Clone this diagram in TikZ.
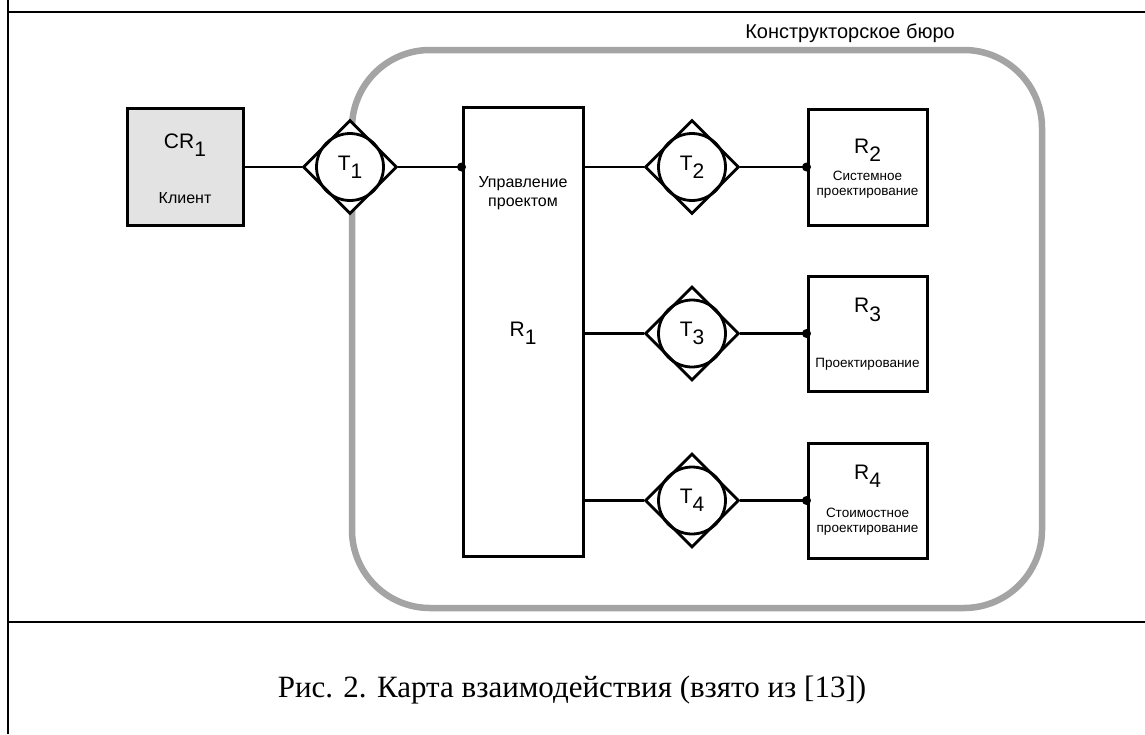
\documentclass[tikz,border=0pt]{standalone}
\usepackage{fontspec}
\setmainfont{Liberation Sans}
\newfontfamily\capfont{Liberation Serif}
\usetikzlibrary{shapes.geometric}
\definecolor{kbgray}{HTML}{A4A4A4}
\definecolor{clientfill}{HTML}{E3E3E3}
\newcommand{\lowidx}[1]{\raisebox{-0.4em}{#1}}

\begin{document}
\begin{tikzpicture}[x=1pt, y=-1pt,
    unit/.style={rectangle, draw, line width=3pt, inner sep=0pt, minimum width=119pt, minimum height=116pt},
    tnode/.style={diamond, draw, fill=white, line width=2.8pt, inner sep=0pt, minimum width=94pt, minimum height=94pt},
    tring/.style={circle, draw, line width=2.8pt, inner sep=0pt, minimum size=67pt, font=\fontsize{21}{24}\selectfont},
    big/.style={font=\fontsize{21}{24}\selectfont},
    mid/.style={font=\fontsize{16}{19}\selectfont, align=center},
    small/.style={font=\fontsize{13.5}{15}\selectfont, align=center},
    link/.style={line width=2.8pt},
    dot/.style={circle, fill, inner sep=0pt, minimum size=9pt},
    frame/.style={line width=2.6pt},
]
\useasboundingbox (0,0) rectangle (1145,734);

\draw[frame] (8,0) -- (8,734);
\draw[frame] (8,12) -- (1145,12);
\draw[frame] (8,622) -- (1145,622);

\node[draw=kbgray, line width=6.5pt, rounded corners=78pt, minimum width=690pt, minimum height=558pt] (bureau) at (697,329) {};
\node[font=\fontsize{20}{24}\selectfont] (bureaulabel) at (850,33) {Конструкторское бюро};

\node[unit, fill=clientfill, minimum width=116pt, minimum height=117pt] (CR1) at (185,167) {};
\node[big] (CR1name) at (185,145) {CR\lowidx{1}};
\node[mid] (CR1text) at (185,198) {Клиент};

\node[unit, minimum width=120pt, minimum height=449pt] (R1) at (523,331.5) {};
\node[mid] (R1text) at (523,193) {Управление\\проектом};
\node[big] (R1name) at (523,333) {R\lowidx{1}};

\node[tnode] (T1) at (350,167) {};
\node[tring] (T1c) at (T1) {T\lowidx{1}};
\node[tnode] (T2) at (692,167) {};
\node[tring] (T2c) at (T2) {T\lowidx{2}};
\node[tnode] (T3) at (692,333.5) {};
\node[tring] (T3c) at (T3) {T\lowidx{3}};
\node[tnode] (T4) at (692,500.5) {};
\node[tring] (T4c) at (T4) {T\lowidx{4}};

\node[unit] (R2) at (867.5,167) {};
\node[big] (R2name) at (867.5,150) {R\lowidx{2}};
\node[small] (R2text) at (867.5,185) {Системное\\проектирование};
\node[unit, minimum height=115pt] (R3) at (867.5,333.5) {};
\node[big] (R3name) at (867.5,310) {R\lowidx{3}};
\node[small] (R3text) at (867.5,364) {Проектирование};
\node[unit, minimum height=115pt] (R4) at (867.5,500.5) {};
\node[big] (R4name) at (867.5,476) {R\lowidx{4}};
\node[small] (R4text) at (867.5,522) {Стоимостное\\проектирование};

\draw[link] (CR1.east) -- (T1.west);
\draw[link] (T1.east) -- (R1.west |- T1.east);
\node[dot] (R1in) at (R1.west |- T1.east) {};

\draw[link] (R1.east |- T2.west) -- (T2.west);
\draw[link] (T2.east) -- (R2.west);
\node[dot] (R2in) at (R2.west) {};
\draw[link] (R1.east |- T3.west) -- (T3.west);
\draw[link] (T3.east) -- (R3.west);
\node[dot] (R3in) at (R3.west) {};
\draw[link] (R1.east |- T4.west) -- (T4.west);
\draw[link] (T4.east) -- (R4.west);
\node[dot] (R4in) at (R4.west) {};

\node[font=\capfont\fontsize{31}{36}\selectfont] (caption) at (572,690) {Рис. 2. Карта взаимодействия (взято из [13])};
\end{tikzpicture}
\end{document}
